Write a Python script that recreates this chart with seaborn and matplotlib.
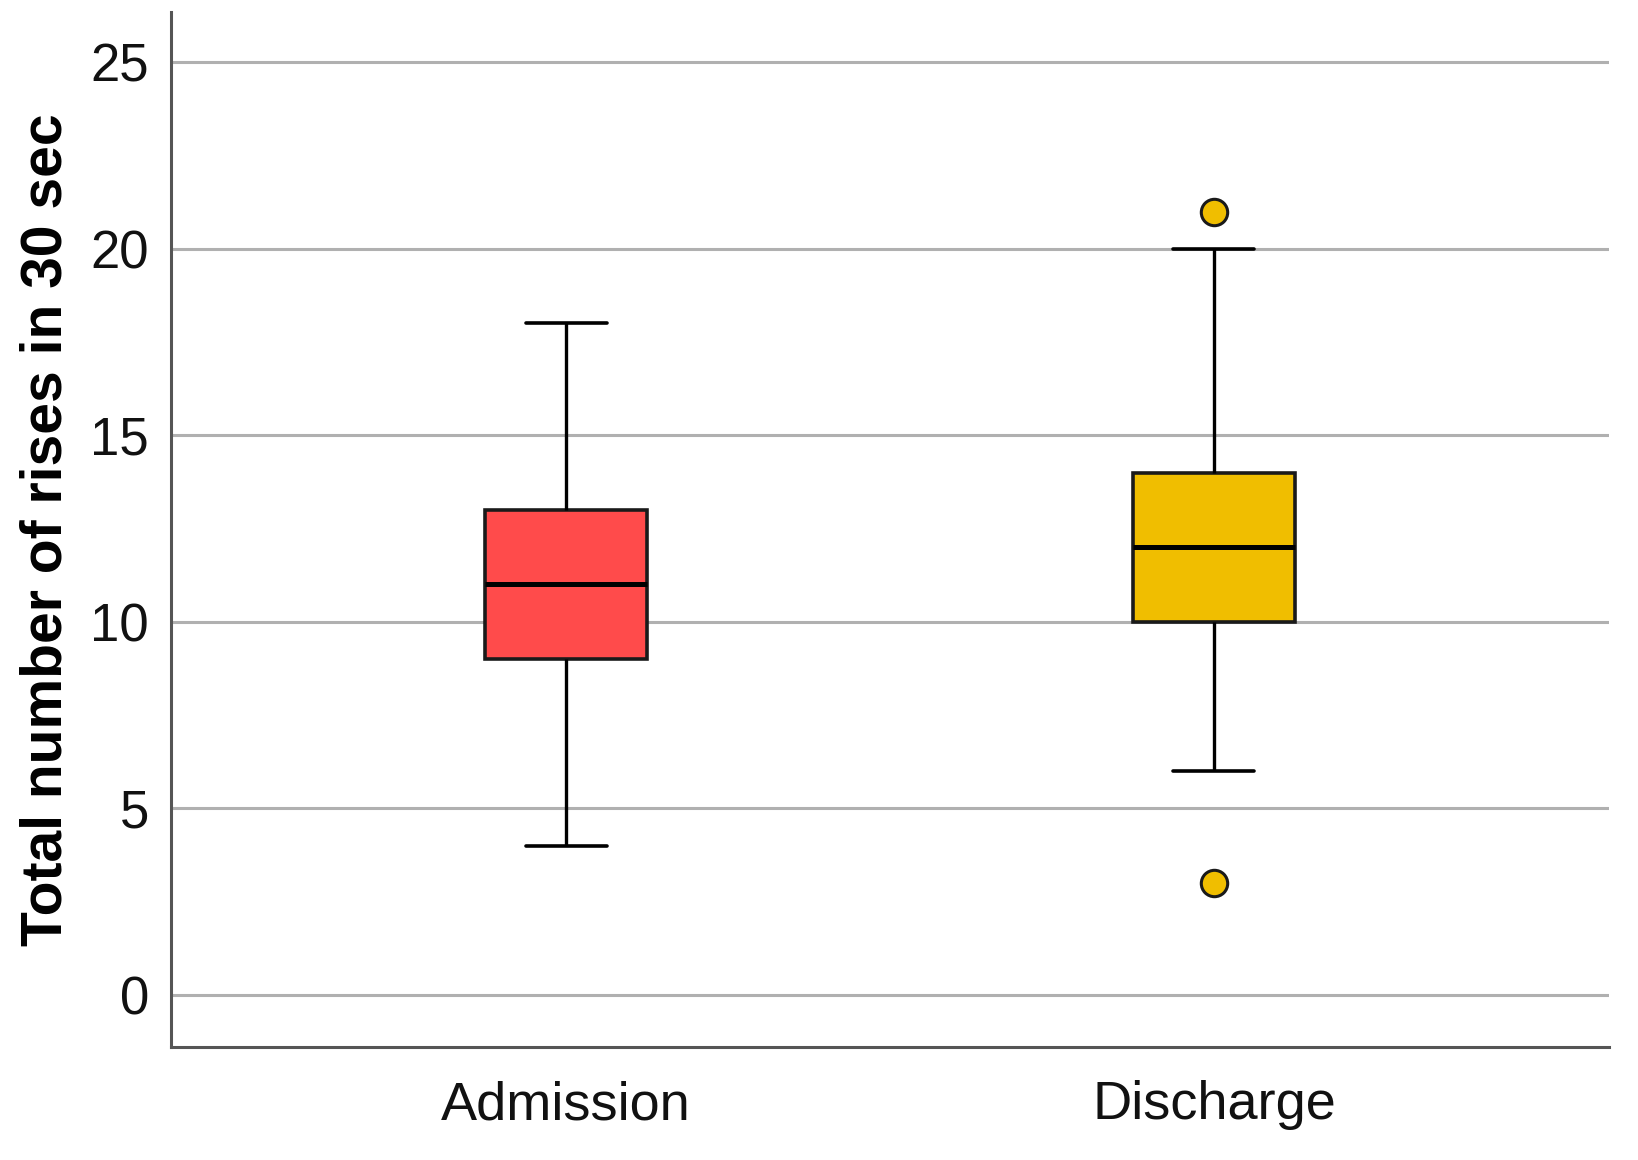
import matplotlib
matplotlib.use("Agg")
import matplotlib.pyplot as plt
import seaborn as sns
import pandas as pd

# Data
categories = ["Admission", "Discharge"]
admission_values = [4, 7, 9, 10, 11, 12, 13, 15, 18]
discharge_values = [3, 6, 10, 10, 11, 12, 13, 14, 14, 20, 21]
box_colors = ["#FF4B4B", "#F0BE00"]
y_ticks = [0, 5, 10, 15, 20, 25]
y_label = "Total number of rises in 30 sec"

df = pd.DataFrame({
    "group": [categories[0]] * len(admission_values) + [categories[1]] * len(discharge_values),
    "value": admission_values + discharge_values,
})

sns.set_theme(style="white")
plt.rcParams["font.family"] = ["Liberation Sans", "DejaVu Sans"]

fig, ax = plt.subplots(figsize=(16.38, 11.6), dpi=100)
fig.subplots_adjust(left=0.1044, right=0.9823, top=0.9897, bottom=0.0974)

sns.boxplot(
    data=df, x="group", y="value", hue="group", order=categories,
    hue_order=categories, palette=box_colors, legend=False, saturation=1,
    width=0.25, whis=1.5, linecolor="black", linewidth=2.2,
    dodge=False, ax=ax,
    medianprops=dict(color="black", linewidth=3.6),
    whiskerprops=dict(color="black", linewidth=2.4),
    capprops=dict(color="black", linewidth=2.6),
    boxprops=dict(edgecolor="#1a1a1a", linewidth=2.6),
    flierprops=dict(marker="o", markersize=19, markerfacecolor="#F0BE00",
                    markeredgecolor="#1a1a1a", markeredgewidth=2.2),
)

ax.set_xlim(-0.61, 1.61)
ax.set_ylim(-1.4, 26.35)
ax.set_yticks(y_ticks)
ax.yaxis.grid(True, color="#b0b0b0", linewidth=2.2)
ax.xaxis.grid(False)
ax.set_axisbelow(True)

for s in ["top", "right"]:
    ax.spines[s].set_visible(False)
for s in ["left", "bottom"]:
    ax.spines[s].set_color("#555555")
    ax.spines[s].set_linewidth(2.2)

ax.tick_params(axis="y", length=0, pad=16, labelsize=38, labelcolor="#111111")
ax.tick_params(axis="x", length=0, pad=24, labelsize=39, labelcolor="#111111")
ax.set_xlabel("")
ax.set_ylabel(y_label, fontsize=41, fontweight="bold", color="black", labelpad=12)

fig.savefig("out.png", dpi=100)
